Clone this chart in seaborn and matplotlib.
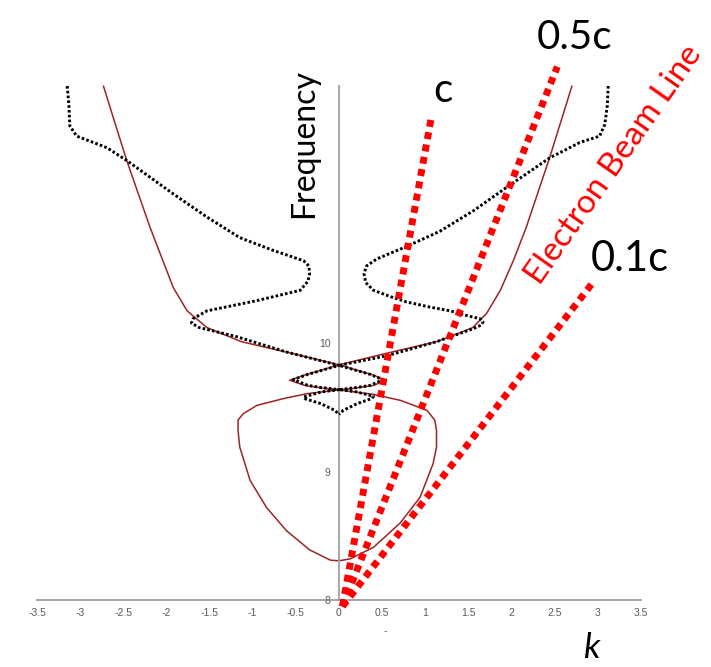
import matplotlib
matplotlib.use("Agg")
import matplotlib.pyplot as plt
import seaborn as sns
import numpy as np

# ---------------- data ----------------
# black dispersion curve, right half (k>=0), top -> cusp
black_r_k = [3.12, 3.11, 3.08, 3.02, 2.79, 2.44, 1.94, 1.56, 1.17, 0.78, 0.44, 0.32, 0.29,
             0.31, 0.40, 0.60, 0.78, 1.05, 1.29, 1.50, 1.63, 1.67, 1.65, 1.55, 1.13, 0.55, 0.00,
             0.20, 0.36, 0.51, 0.36, 0.20, 0.00, 0.20, 0.40, 0.38, 0.21, 0.05, 0.00]
black_r_f = [12.00, 11.85, 11.70, 11.61, 11.56, 11.44, 11.21, 11.03, 10.87, 10.75, 10.655, 10.60, 10.54,
             10.47, 10.41, 10.36, 10.32, 10.28, 10.25, 10.21, 10.19, 10.165, 10.14, 10.11, 10.01, 9.90, 9.826,
             9.787, 9.756, 9.715, 9.67, 9.653, 9.637, 9.62, 9.585, 9.568, 9.528, 9.476, 9.445]
# black dispersion curve, left half (k<=0)
black_l_k = [-3.15, -3.13, -3.12, -3.04, -2.69, -2.46, -1.92, -1.53, -1.15, -0.76, -0.41, -0.35, -0.34,
             -0.36, -0.45, -0.95, -1.53, -1.69, -1.71, -1.62, -1.19, -0.61, 0.00,
             -0.20, -0.36, -0.53, -0.36, -0.20, 0.00, -0.20, -0.41, -0.39, -0.21, -0.05, 0.00]
black_l_f = [12.00, 11.85, 11.69, 11.61, 11.52, 11.42, 11.16, 10.98, 10.82, 10.72, 10.64, 10.60, 10.54,
             10.48, 10.41, 10.33, 10.25, 10.19, 10.155, 10.12, 10.05, 9.93, 9.826,
             9.787, 9.756, 9.715, 9.67, 9.653, 9.637, 9.62, 9.58, 9.565, 9.528, 9.476, 9.445]

# dark red curve, right half
red_r_k = [2.70, 2.57, 2.44, 2.17, 2.02, 1.87, 1.71, 1.55, 1.29, 1.13, 0.55, 0.00,
           0.20, 0.40, 0.54, 0.40, 0.20, 0.00,
           0.40, 0.71, 1.02, 1.11, 1.13, 1.13, 1.09, 0.94, 0.71, 0.40, 0.13, 0.00]
red_r_f = [12.00, 11.72, 11.44, 10.90, 10.64, 10.41, 10.23, 10.12, 10.05, 10.01, 9.92, 9.83,
           9.79, 9.75, 9.71, 9.67, 9.65, 9.635,
           9.60, 9.554, 9.476, 9.40, 9.32, 9.19, 9.06, 8.80, 8.60, 8.41, 8.32, 8.305]
# dark red curve, left half
red_l_k = [-2.73, -2.60, -2.46, -2.19, -1.92, -1.76, -1.53, -1.13, -0.55, 0.00,
           -0.20, -0.40, -0.57, -0.40, -0.20, 0.00,
           -0.37, -0.645, -0.95, -1.11, -1.17, -1.17, -1.15, -1.03, -0.84, -0.61, -0.34, -0.10, 0.00]
red_l_f = [12.00, 11.72, 11.42, 10.90, 10.43, 10.25, 10.12, 10.01, 9.92, 9.83,
           9.79, 9.75, 9.71, 9.67, 9.65, 9.635,
           9.606, 9.567, 9.515, 9.45, 9.40, 9.32, 9.19, 8.93, 8.72, 8.54, 8.39, 8.31, 8.305]

# light / beam lines (start, end)
line_c_k = [0.04, 1.07]
line_c_f = [7.95, 11.755]
line_05c_k = [0.04, 2.53]
line_05c_f = [7.95, 12.15]
line_01c_k = [0.04, 2.93]
line_01c_f = [7.95, 10.46]

x_ticks = [-3.5, -3, -2.5, -2, -1.5, -1, -0.5, 0, 0.5, 1, 1.5, 2, 2.5, 3, 3.5]
x_tick_labels = ["-3.5", "-3", "-2.5", "-2", "-1.5", "-1", "-0.5", "0", "0.5", "1", "1.5", "2", "2.5", "3", "3.5"]
y_ticks = [8, 9, 10, 11, 12]
y_tick_labels = ["8", "9", "10", "", ""]

# ---------------- figure ----------------
sns.set_style("white")
plt.rcParams["font.family"] = ["Lato", "DejaVu Sans"]

W, H = 711, 667
fig = plt.figure(figsize=(W / 100, H / 100), dpi=100)
ax = fig.add_axes([37 / W, 1 - 600 / H, (641 - 37) / W, (600 - 86) / H])

BLACK_DOT = (0, (0.9, 0.75))
for kk, ff in [(black_r_k, black_r_f), (black_l_k, black_l_f)]:
    sns.lineplot(x=kk, y=ff, sort=False, estimator=None, ax=ax, color="black",
                 lw=2.1, linestyle=BLACK_DOT, zorder=3)
for kk, ff in [(red_r_k, red_r_f), (red_l_k, red_l_f)]:
    sns.lineplot(x=kk, y=ff, sort=False, estimator=None, ax=ax, color="#9B2424",
                 lw=1.1, zorder=2)
for kk, ff in [(line_c_k, line_c_f), (line_05c_k, line_05c_f), (line_01c_k, line_01c_f)]:
    sns.lineplot(x=kk, y=ff, sort=False, estimator=None, ax=ax, color="#FF0000",
                 lw=5.0, linestyle=(0, (1.0, 0.8)), zorder=4, clip_on=False)

for ln in ax.lines:
    ln.set_dash_capstyle("butt")
    ln.set_clip_on(False)

ax.set_xlim(-3.5, 3.5)
ax.set_ylim(8, 12)
ax.set_xticks(x_ticks)
ax.set_xticklabels(x_tick_labels)
ax.set_yticks(y_ticks)
ax.set_yticklabels(y_tick_labels)
ax.set_xlabel("")
ax.set_ylabel("")

for s in ["top", "right"]:
    ax.spines[s].set_visible(False)
ax.spines["left"].set_position(("data", 0))
ax.spines["left"].set_color("#A6A6A6")
ax.spines["left"].set_linewidth(1.4)
ax.spines["bottom"].set_color("#8C8C8C")
ax.spines["bottom"].set_linewidth(1.1)
ax.tick_params(axis="both", direction="out", length=3, width=0.8, color="#8C8C8C",
               labelsize=7.5, labelcolor="#595959", pad=3)
for lab in ax.get_xticklabels() + ax.get_yticklabels():
    lab.set_fontfamily(["Liberation Sans", "DejaVu Sans"])
ax.patch.set_alpha(0)

# ---------------- annotations ----------------
def fx(px):
    return px / W

def fy(py):
    return 1 - py / H

fig.text(fx(443), fy(102), "c", ha="center", va="baseline", fontsize=29, color="black")
fig.text(fx(575), fy(49), "0.5c", ha="center", va="baseline", fontsize=29, color="black")
fig.text(fx(630), fy(271), "0.1c", ha="center", va="baseline", fontsize=30, color="black")
fig.text(fx(304), fy(143.5), "Frequency", ha="center", va="center", rotation=90,
         fontsize=23, color="black")
fig.text(fx(614), fy(165), "Electron Beam Line", ha="center", va="center", rotation=55,
         rotation_mode="anchor", fontsize=24, color="#FF0000")
fig.text(fx(591), fy(658), "k", ha="center", va="baseline", fontsize=25, style="italic",
         color="black")
fig.text(fx(385), fy(632), "-", ha="center", va="center", fontsize=7, color="#595959")

fig.savefig("out.png", dpi=100)
